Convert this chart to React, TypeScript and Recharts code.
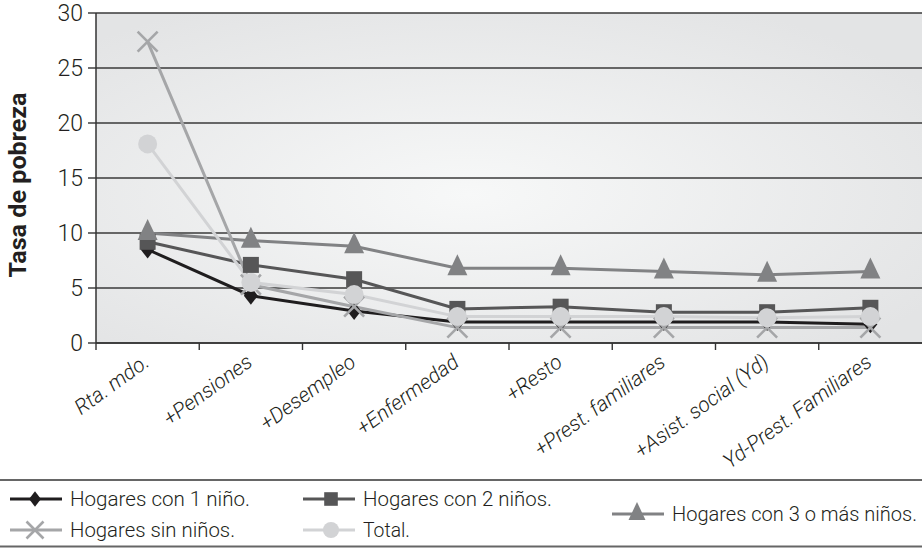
import React from 'react';
import { LineChart, Line, XAxis, YAxis, CartesianGrid } from 'recharts';

const categories = [
  'Rta. mdo.',
  '+Pensiones',
  '+Desempleo',
  '+Enfermedad',
  '+Resto',
  '+Prest. familiares',
  '+Asist. social (Yd)',
  'Yd-Prest. Familiares',
];
const unNino = [8.5, 4.3, 2.9, 1.9, 1.9, 1.9, 1.9, 1.7];
const dosNinos = [9.2, 7.1, 5.8, 3.1, 3.3, 2.8, 2.8, 3.2];
const tresNinos = [10.0, 9.3, 8.8, 6.8, 6.8, 6.5, 6.2, 6.5];
const sinNinos = [27.4, 5.3, 3.3, 1.4, 1.4, 1.4, 1.4, 1.4];
const total = [18.1, 5.5, 4.4, 2.4, 2.4, 2.4, 2.3, 2.4];
const yTicks = [0, 5, 10, 15, 20, 25, 30];

type Shape = 'diamond' | 'square' | 'triangle' | 'cross' | 'circle';

const series: { key: string; name: string; color: string; shape: Shape }[] = [
  { key: 'unNino', name: 'Hogares con 1 niño.', color: '#1f1d1e', shape: 'diamond' },
  { key: 'dosNinos', name: 'Hogares con 2 niños.', color: '#565657', shape: 'square' },
  { key: 'tresNinos', name: 'Hogares con 3 o más niños.', color: '#818284', shape: 'triangle' },
  { key: 'sinNinos', name: 'Hogares sin niños.', color: '#a5a6a8', shape: 'cross' },
  { key: 'total', name: 'Total.', color: '#d2d3d5', shape: 'circle' },
];

const data = categories.map((cat, i) => ({
  cat,
  unNino: unNino[i],
  dosNinos: dosNinos[i],
  tresNinos: tresNinos[i],
  sinNinos: sinNinos[i],
  total: total[i],
}));

const Marker = ({ shape, cx, cy, color, scale = 1 }: { shape: Shape; cx: number; cy: number; color: string; scale?: number }) => {
  const s = scale;
  if (shape === 'diamond') {
    const w = 7 * s, h = 9 * s;
    return <path d={`M${cx},${cy - h}L${cx + w},${cy}L${cx},${cy + h}L${cx - w},${cy}Z`} fill={color} />;
  }
  if (shape === 'square') {
    const h = 8 * s;
    return <rect x={cx - h} y={cy - h} width={h * 2} height={h * 2} fill={color} />;
  }
  if (shape === 'triangle') {
    const w = 10 * s, h = 21 * s;
    return <path d={`M${cx},${cy - (h * 2) / 3}L${cx + w},${cy + h / 3}L${cx - w},${cy + h / 3}Z`} fill={color} />;
  }
  if (shape === 'cross') {
    const h = 10 * s;
    return (
      <path
        d={`M${cx - h},${cy - h}L${cx + h},${cy + h}M${cx - h},${cy + h}L${cx + h},${cy - h}`}
        stroke={color}
        strokeWidth={2.6}
        fill="none"
      />
    );
  }
  return <circle cx={cx} cy={cy} r={9.5 * s} fill={color} />;
};

const XTick = (props: any) => {
  const { x, y, payload } = props;
  const off = payload.offset ?? 0;
  const ax = x + 3;
  const ay = y + 22;
  return (
    <g>
      <line x1={x - off} x2={x - off} y1={y} y2={y + 7} stroke="#333" strokeWidth={1.4} />
      <text
        x={ax}
        y={ay}
        textAnchor="end"
        transform={`rotate(-36 ${ax} ${ay})`}
        fontSize={21}
        fontStyle="italic"
        fontWeight={300}
        fill="#231f20"
      >
        {payload.value}
      </text>
    </g>
  );
};

const YLabel = () => (
  <text
    x={18}
    y={185}
    transform="rotate(-90 18 185)"
    textAnchor="middle"
    dominantBaseline="central"
    fontSize={24}
    fontWeight={700}
    fill="#231f20"
    textLength={185}
    lengthAdjust="spacingAndGlyphs"
  >
    Tasa de pobreza
  </text>
);

const legendItems = [
  { s: series[0], lx: 10, mx: 35, tx: 70, y: 20, len: 180 },
  { s: series[3], lx: 10, mx: 35, tx: 70, y: 51, len: 165 },
  { s: series[1], lx: 303, mx: 331, tx: 363, y: 20, len: 189 },
  { s: series[4], lx: 303, mx: 331, tx: 363, y: 51, len: 47 },
  { s: series[2], lx: 612, mx: 637, tx: 672, y: 35, len: 245 },
];

const Legend = () => (
  <svg width={922} height={69} style={{ position: 'absolute', left: 0, top: 479 }}>
    <line x1={0} x2={922} y1={1} y2={1} stroke="#666" strokeWidth={2} />
    <line x1={0} x2={922} y1={67.5} y2={67.5} stroke="#666" strokeWidth={2} />
    {legendItems.map((it) => (
      <g key={it.s.key}>
        <line x1={it.lx} x2={it.lx + 52} y1={it.y} y2={it.y} stroke={it.s.color} strokeWidth={3} />
        <Marker shape={it.s.shape} cx={it.mx} cy={it.y} color={it.s.color} scale={0.85} />
        <text
          x={it.tx}
          y={it.y}
          dominantBaseline="central"
          fontSize={20}
          fontWeight={300}
          fill="#231f20"
          textLength={it.len}
          lengthAdjust="spacingAndGlyphs"
        >
          {it.s.name}
        </text>
      </g>
    ))}
  </svg>
);

export default function App() {
  return (
    <div
      style={{
        position: 'absolute',
        left: 0,
        top: 0,
        width: 922,
        height: 549,
        background: '#fff',
        fontFamily: 'Roboto, sans-serif',
      }}
    >
      <LineChart width={922} height={480} data={data} margin={{ top: 13, right: 0, bottom: 17, left: 36 }}>
        <defs>
          <radialGradient id="plotBg" cx="0.45" cy="0.55" r="0.65">
            <stop offset="0%" stopColor="#f7f8f8" />
            <stop offset="100%" stopColor="#e3e4e5" />
          </radialGradient>
        </defs>
        <CartesianGrid vertical={false} stroke="#3a3a3a" strokeWidth={1.5} fill="url(#plotBg)" fillOpacity={1} />
        <XAxis
          dataKey="cat"
          scale="band"
          interval={0}
          height={120}
          tickSize={0}
          tickMargin={0}
          axisLine={{ stroke: '#333', strokeWidth: 1.5 }}
          tickLine={false}
          tick={<XTick />}
        />
        <YAxis
          domain={[0, 30]}
          ticks={yTicks}
          width={60}
          tickSize={8}
          tickMargin={5}
          axisLine={{ stroke: '#333', strokeWidth: 1.5 }}
          tickLine={{ stroke: '#333', strokeWidth: 1.4 }}
          tick={{ fontSize: 23, fontWeight: 300, fill: '#231f20' }}
          label={{ content: () => <YLabel /> }}
        />
        {series.map((s) => (
          <Line
            key={s.key}
            dataKey={s.key}
            name={s.name}
            type="linear"
            stroke={s.color}
            strokeWidth={3}
            isAnimationActive={false}
            dot={(p: any) => <Marker key={`${s.key}-${p.index}`} shape={s.shape} cx={p.cx} cy={p.cy} color={s.color} />}
            activeDot={false}
          />
        ))}
      </LineChart>
      <Legend />
    </div>
  );
}
